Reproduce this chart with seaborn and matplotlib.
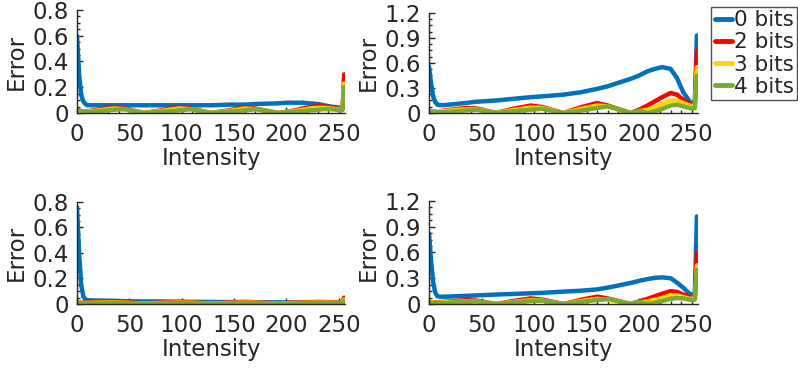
import numpy as np
import pandas as pd
import matplotlib
matplotlib.use("Agg")
import matplotlib.pyplot as plt
import seaborn as sns
from matplotlib.ticker import AutoMinorLocator, MultipleLocator, FuncFormatter

sns.set_style("ticks")
plt.rcParams['font.family'] = ['DejaVu Sans']

# intensity grid shared by all curves
intensity = [0, 2, 4, 6, 8, 10, 15, 35, 45, 64, 80, 97, 108, 128, 145, 160, 170,
             192, 200, 208, 215, 222, 230, 236, 242, 248, 251, 253, 254, 255]

series_names = ["0 bits", "2 bits", "3 bits", "4 bits"]
colors = ["#0072BD", "#FF0000", "#FFD700", "#77AC30"]

# top-left panel
tl_0 = [0.60, 0.30, 0.14, 0.09, 0.07, 0.06, 0.06, 0.06, 0.06, 0.06, 0.06, 0.06, 0.06, 0.06, 0.065,
        0.065, 0.07, 0.075, 0.08, 0.08, 0.08, 0.075, 0.07, 0.06, 0.05, 0.045, 0.04, 0.04, 0.04, 0.04]
tl_2 = [0.02, 0.015, 0.01, 0.01, 0.01, 0.012, 0.02, 0.045, 0.035, 0.0, 0.02, 0.045, 0.035, 0.0, 0.02,
        0.045, 0.035, 0.0, 0.01, 0.02, 0.035, 0.045, 0.055, 0.05, 0.045, 0.035, 0.03, 0.03, 0.1, 0.3]
tl_3 = [0.02, 0.015, 0.01, 0.01, 0.01, 0.01, 0.015, 0.035, 0.03, 0.0, 0.015, 0.035, 0.03, 0.0, 0.015,
        0.035, 0.03, 0.0, 0.008, 0.015, 0.025, 0.035, 0.04, 0.04, 0.035, 0.03, 0.025, 0.025, 0.08, 0.23]
tl_4 = [0.025, 0.02, 0.015, 0.01, 0.008, 0.008, 0.01, 0.025, 0.03, 0.0, 0.01, 0.02, 0.03, 0.0, 0.01,
        0.02, 0.03, 0.0, 0.005, 0.01, 0.015, 0.02, 0.025, 0.03, 0.03, 0.025, 0.02, 0.02, 0.06, 0.2]

# top-right panel
tr_0 = [0.56, 0.35, 0.20, 0.13, 0.10, 0.095, 0.095, 0.12, 0.135, 0.15, 0.17, 0.19, 0.20, 0.22, 0.25,
        0.29, 0.32, 0.41, 0.45, 0.50, 0.53, 0.55, 0.53, 0.42, 0.25, 0.14, 0.11, 0.13, 0.5, 0.93]
tr_2 = [0.02, 0.02, 0.02, 0.02, 0.02, 0.02, 0.03, 0.06, 0.055, 0.0, 0.05, 0.09, 0.07, 0.0, 0.07,
        0.12, 0.09, 0.0, 0.04, 0.09, 0.14, 0.19, 0.24, 0.22, 0.16, 0.11, 0.09, 0.09, 0.4, 0.75]
tr_3 = [0.02, 0.02, 0.02, 0.02, 0.02, 0.02, 0.025, 0.045, 0.045, 0.0, 0.035, 0.065, 0.06, 0.0, 0.05,
        0.09, 0.08, 0.0, 0.02, 0.04, 0.07, 0.11, 0.15, 0.15, 0.12, 0.09, 0.08, 0.08, 0.3, 0.55]
tr_4 = [0.02, 0.02, 0.015, 0.012, 0.01, 0.01, 0.01, 0.03, 0.04, 0.0, 0.02, 0.04, 0.05, 0.0, 0.03,
        0.06, 0.08, 0.0, 0.03, 0.0, 0.02, 0.05, 0.09, 0.10, 0.08, 0.06, 0.05, 0.06, 0.25, 0.45]

# bottom-left panel
bl_0 = [0.76, 0.40, 0.15, 0.06, 0.035, 0.03, 0.028, 0.025, 0.022, 0.02, 0.02, 0.018, 0.017, 0.016, 0.015,
        0.015, 0.014, 0.013, 0.013, 0.012, 0.012, 0.012, 0.011, 0.011, 0.01, 0.01, 0.01, 0.01, 0.01, 0.01]
bl_2 = [0.01, 0.01, 0.01, 0.01, 0.012, 0.012, 0.014, 0.018, 0.015, 0.005, 0.01, 0.016, 0.014, 0.005, 0.01,
        0.016, 0.014, 0.005, 0.008, 0.01, 0.012, 0.014, 0.016, 0.015, 0.014, 0.012, 0.01, 0.01, 0.03, 0.05]
bl_3 = [0.008, 0.008, 0.008, 0.008, 0.008, 0.008, 0.01, 0.012, 0.01, 0.004, 0.008, 0.011, 0.01, 0.004, 0.008,
        0.011, 0.01, 0.004, 0.006, 0.008, 0.009, 0.01, 0.011, 0.011, 0.01, 0.009, 0.008, 0.008, 0.02, 0.035]
bl_4 = [0.006, 0.006, 0.005, 0.005, 0.005, 0.005, 0.006, 0.008, 0.008, 0.003, 0.005, 0.007, 0.008, 0.003, 0.005,
        0.007, 0.008, 0.003, 0.004, 0.005, 0.006, 0.007, 0.008, 0.008, 0.008, 0.007, 0.006, 0.006, 0.015, 0.025]

# bottom-right panel
br_0 = [0.82, 0.50, 0.25, 0.13, 0.09, 0.085, 0.085, 0.095, 0.10, 0.11, 0.117, 0.125, 0.13, 0.144, 0.155,
        0.17, 0.19, 0.245, 0.27, 0.29, 0.305, 0.31, 0.30, 0.25, 0.19, 0.12, 0.10, 0.13, 0.55, 1.02]
br_2 = [0.02, 0.02, 0.02, 0.02, 0.02, 0.02, 0.025, 0.045, 0.04, 0.0, 0.035, 0.065, 0.05, 0.0, 0.05,
        0.085, 0.065, 0.0, 0.03, 0.06, 0.09, 0.12, 0.15, 0.14, 0.11, 0.08, 0.07, 0.07, 0.3, 0.6]
br_3 = [0.02, 0.02, 0.02, 0.015, 0.015, 0.015, 0.02, 0.03, 0.03, 0.0, 0.025, 0.045, 0.04, 0.0, 0.035,
        0.06, 0.05, 0.0, 0.015, 0.03, 0.05, 0.07, 0.10, 0.10, 0.08, 0.06, 0.06, 0.06, 0.22, 0.45]
br_4 = [0.02, 0.02, 0.015, 0.012, 0.01, 0.01, 0.01, 0.025, 0.03, 0.0, 0.02, 0.035, 0.04, 0.0, 0.025,
        0.045, 0.06, 0.0, 0.025, 0.0, 0.015, 0.035, 0.06, 0.07, 0.065, 0.05, 0.045, 0.05, 0.2, 0.4]

panels = [
    ([tl_0, tl_2, tl_3, tl_4], 0.8, 0.2, [0.0965, 0.6946, 0.336, 0.2784]),
    ([tr_0, tr_2, tr_3, tr_4], 1.2, 0.3, [0.5376, 0.6946, 0.337, 0.2703]),
    ([bl_0, bl_2, bl_3, bl_4], 0.8, 0.2, [0.0965, 0.1784, 0.336, 0.2757]),
    ([br_0, br_2, br_3, br_4], 1.2, 0.3, [0.5376, 0.1784, 0.337, 0.2784]),
]

txt = "#262626"
fs = 16.5

fig = plt.figure(figsize=(7.98, 3.70), dpi=100)
for vals, ymax, ystep, pos in panels:
    ax = fig.add_axes(pos)
    df = pd.DataFrame({"Intensity": intensity * 4,
                       "Error": sum(vals, []),
                       "Bits": sum([[n] * len(intensity) for n in series_names], [])})
    sns.lineplot(data=df, x="Intensity", y="Error", hue="Bits", hue_order=series_names,
                 palette=colors, linewidth=3.2, ax=ax, legend=False, estimator=None)
    ax.set_xlim(0, 256)
    ax.set_ylim(0, ymax)
    ax.xaxis.set_major_locator(MultipleLocator(50))
    ax.yaxis.set_major_locator(MultipleLocator(ystep))
    ax.xaxis.set_minor_locator(AutoMinorLocator(5))
    ax.yaxis.set_minor_locator(AutoMinorLocator(4))
    ax.yaxis.set_major_formatter(FuncFormatter(lambda v, p: "%g" % round(v, 2)))
    ax.tick_params(which="both", direction="in", colors=txt, labelsize=fs, width=1)
    ax.tick_params(axis="x", pad=7)
    ax.tick_params(axis="y", pad=6)
    ax.tick_params(which="major", length=4)
    ax.tick_params(which="minor", length=2)
    ax.set_xlabel("Intensity", fontsize=fs, color=txt, labelpad=1)
    ax.set_ylabel("Error", fontsize=fs, color=txt, labelpad=3)
    sns.despine(ax=ax)
    for s in ["left", "bottom"]:
        ax.spines[s].set_color(txt)
        ax.spines[s].set_linewidth(1)

handles = [plt.Line2D([], [], color=c, lw=3.5) for c in colors]
fig.legend(handles, series_names, loc="upper right", bbox_to_anchor=(0.999, 0.981),
           fontsize=15.5, frameon=True, fancybox=False, edgecolor=txt, handlelength=0.8,
           handletextpad=0.1, borderpad=0.15, labelspacing=0.1, borderaxespad=0)

fig.savefig("out.png", dpi=100)
